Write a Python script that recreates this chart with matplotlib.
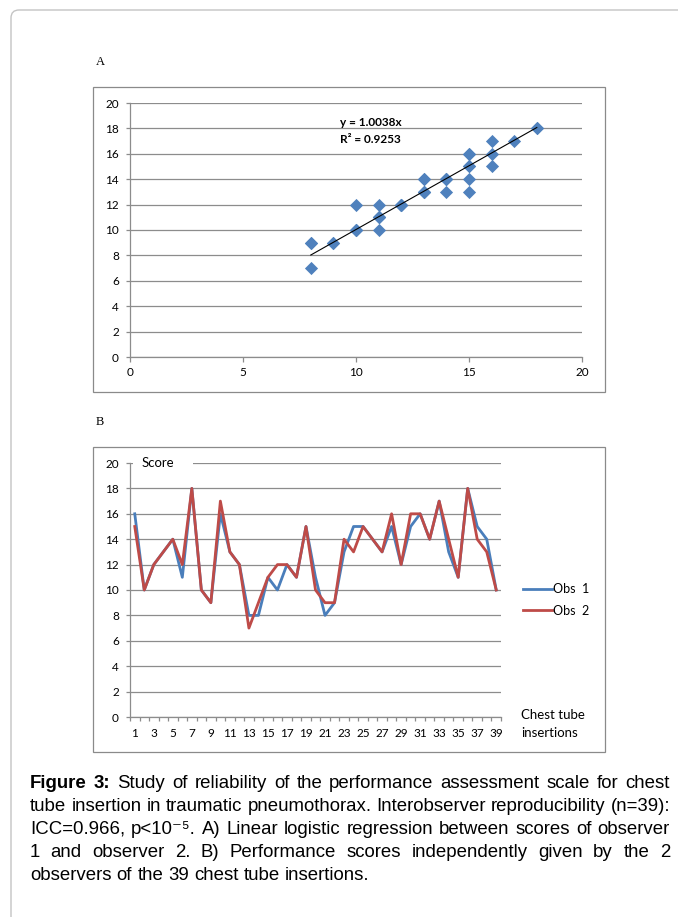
import numpy as np
import matplotlib
matplotlib.use("Agg")
import matplotlib.pyplot as plt
from matplotlib.patches import Rectangle, FancyBboxPatch

#%% data
insertions = list(range(1, 40))
obs1 = [16, 10, 12, 13, 14, 11, 18, 10, 9, 16, 13, 12, 8, 8, 11, 10, 12, 11, 15, 11,
        8, 9, 13, 15, 15, 14, 13, 15, 12, 15, 16, 14, 17, 13, 11, 18, 15, 14, 10]
obs2 = [15, 10, 12, 13, 14, 12, 18, 10, 9, 17, 13, 12, 7, 9, 11, 12, 12, 11, 15, 10,
        9, 9, 14, 13, 15, 14, 13, 16, 12, 16, 16, 14, 17, 14, 11, 18, 14, 13, 10]
slope = 1.0038
r2 = 0.9253
series_names = ["Obs  1", "Obs  2"]

caption_lines = [
    "Figure 3: Study of reliability of the performance assessment scale for chest",
    "tube insertion in traumatic pneumothorax. Interobserver reproducibility (n=39):",
    "ICC=0.966, p<10⁻⁵. A) Linear logistic regression between scores of observer",
    "1 and observer 2. B) Performance scores independently given by the 2",
    "observers of the 39 chest tube insertions.",
]

#%% style
W, H = 678, 917
plt.rcParams['font.family'] = ['Lato', 'DejaVu Sans']
grid_c = '#8c8c8c'
blue = '#4A7EBB'
red = '#BE4B48'
cap_font = ['Liberation Sans Narrow', 'Liberation Sans', 'DejaVu Sans']


def fx(x):
    return x / W


def fy(y):
    return 1 - y / H


fig = plt.figure(figsize=(W / 100, H / 100), dpi=100)

# page frame (rounded top-left corner)
frame = FancyBboxPatch((0.11, -0.5), 8.0, 9.07 + 0.5,
                       boxstyle="round,pad=0,rounding_size=0.08",
                       transform=fig.dpi_scale_trans, fill=False,
                       ec='#c4c4c4', lw=1.0)
fig.add_artist(frame)

# chart area boxes
for top, bot in [(87, 392), (447, 752)]:
    fig.add_artist(Rectangle((fx(93), fy(bot)), fx(605) - fx(93), fy(top) - fy(bot),
                             transform=fig.transFigure, fill=False,
                             ec='#8a8a8a', lw=0.9))

fig.text(fx(96), fy(62), "A", family=['Liberation Serif', 'DejaVu Serif'],
         fontsize=9, va='center', ha='left')
fig.text(fx(96), fy(422), "B", family=['Liberation Serif', 'DejaVu Serif'],
         fontsize=9, va='center', ha='left')


def style_axes(ax):
    for s in ['top', 'right']:
        ax.spines[s].set_visible(False)
    for s in ['left', 'bottom']:
        ax.spines[s].set_color(grid_c)
        ax.spines[s].set_linewidth(0.9)
    ax.yaxis.grid(True, color=grid_c, lw=0.9)
    ax.set_axisbelow(True)
    ax.set_ylim(0, 20)
    ax.set_yticks(range(0, 21, 2))
    ax.tick_params(axis='y', direction='out', length=3, width=0.9, color=grid_c,
                   labelsize=8.5, pad=5)


#%% A: scatter with trendline
axA = fig.add_axes([fx(130), fy(357), fx(582) - fx(130), fy(103) - fy(357)])
style_axes(axA)
axA.set_xlim(0, 20)
axA.set_xticks(range(0, 21, 5))
axA.tick_params(axis='x', direction='out', length=3.5, width=0.9, color=grid_c,
                labelsize=8.5, pad=4)
axA.scatter(obs1, obs2, marker='D', s=45, color='#4F81BD', lw=0, zorder=3)
xs = np.array([min(obs1), max(obs1)])
axA.plot(xs, slope * xs, color='black', lw=0.8, zorder=4)
axA.text(9.3, 18.5, f"y = {slope:.4f}x", fontsize=8.5, fontweight='bold',
         va='center', ha='left')
axA.text(9.3, 17.1, f"R² = {r2:.4f}", fontsize=8.5, fontweight='bold',
         va='center', ha='left')

#%% B: line chart of both observers
axB = fig.add_axes([fx(130), fy(717), fx(501) - fx(130), fy(463) - fy(717)])
style_axes(axB)
axB.set_xlim(0.5, 39.5)
axB.set_xticks(insertions[::2])
axB.set_xticks(np.arange(0.5, 40, 1), minor=True)
axB.tick_params(axis='x', which='major', length=0, labelsize=8.5, pad=8)
axB.tick_params(axis='x', which='minor', direction='out', length=3, width=0.9,
                color=grid_c)
axB.plot(insertions, obs1, color=blue, lw=2.0, label=series_names[0], zorder=3)
axB.plot(insertions, obs2, color=red, lw=2.0, label=series_names[1], zorder=4)

# axis title "Score" sitting over the top gridline
axB.add_patch(Rectangle((0.8, 19.4), 6.3, 1.2, facecolor='white', ec='none',
                        zorder=2, clip_on=False))
axB.text(1.7, 20, "Score", fontsize=9.5, va='center', ha='left', zorder=5)

leg = axB.legend(loc='center left', bbox_to_anchor=(1.06, 0.46), frameon=False,
                 fontsize=9, handlelength=2.3, handletextpad=0.05,
                 borderaxespad=0, borderpad=0, labelspacing=0.75)

fig.text(fx(521), fy(724), "Chest tube\ninsertions", fontsize=9.5,
         va='center', ha='left', linespacing=1.6)

#%% caption, justified line by line
x0, x1 = 30, 670
base_y = [788, 811, 834, 857, 880]
renderer = fig.canvas.get_renderer()


def text_w(s, size, weight='normal'):
    t = fig.text(0, 0, s, family=cap_font, fontsize=size, fontweight=weight)
    w = t.get_window_extent(renderer).width
    t.remove()
    return w


def word_widths(i, size):
    words = caption_lines[i].split(" ")
    return [text_w(w, size, 'bold' if (i == 0 and j < 2) else 'normal')
            for j, w in enumerate(words)]


# largest size at which every justified line keeps a usable word gap
cap_size = 13.4
while cap_size > 8:
    sp = text_w("a b", cap_size) - text_w("ab", cap_size)
    ok = True
    for i in range(len(caption_lines) - 1):
        ww = word_widths(i, cap_size)
        if (x1 - x0 - sum(ww)) / (len(ww) - 1) < 0.6 * sp:
            ok = False
            break
    if ok:
        break
    cap_size -= 0.1

space_w = text_w("a b", cap_size) - text_w("ab", cap_size)
for i, line in enumerate(caption_lines):
    words = line.split(" ")
    texts = []
    for j, w in enumerate(words):
        bold = (i == 0 and j < 2)
        t = fig.text(0, fy(base_y[i]), w, family=cap_font, fontsize=cap_size,
                     fontweight='bold' if bold else 'normal',
                     va='baseline', ha='left')
        texts.append(t)
    widths = [t.get_window_extent(renderer).width for t in texts]
    if i < len(caption_lines) - 1:
        gap = (x1 - x0 - sum(widths)) / (len(words) - 1)
    else:
        gap = space_w
    x = x0
    for t, w in zip(texts, widths):
        t.set_x(fx(x))
        x += w + gap

fig.savefig("out.png", dpi=100)
